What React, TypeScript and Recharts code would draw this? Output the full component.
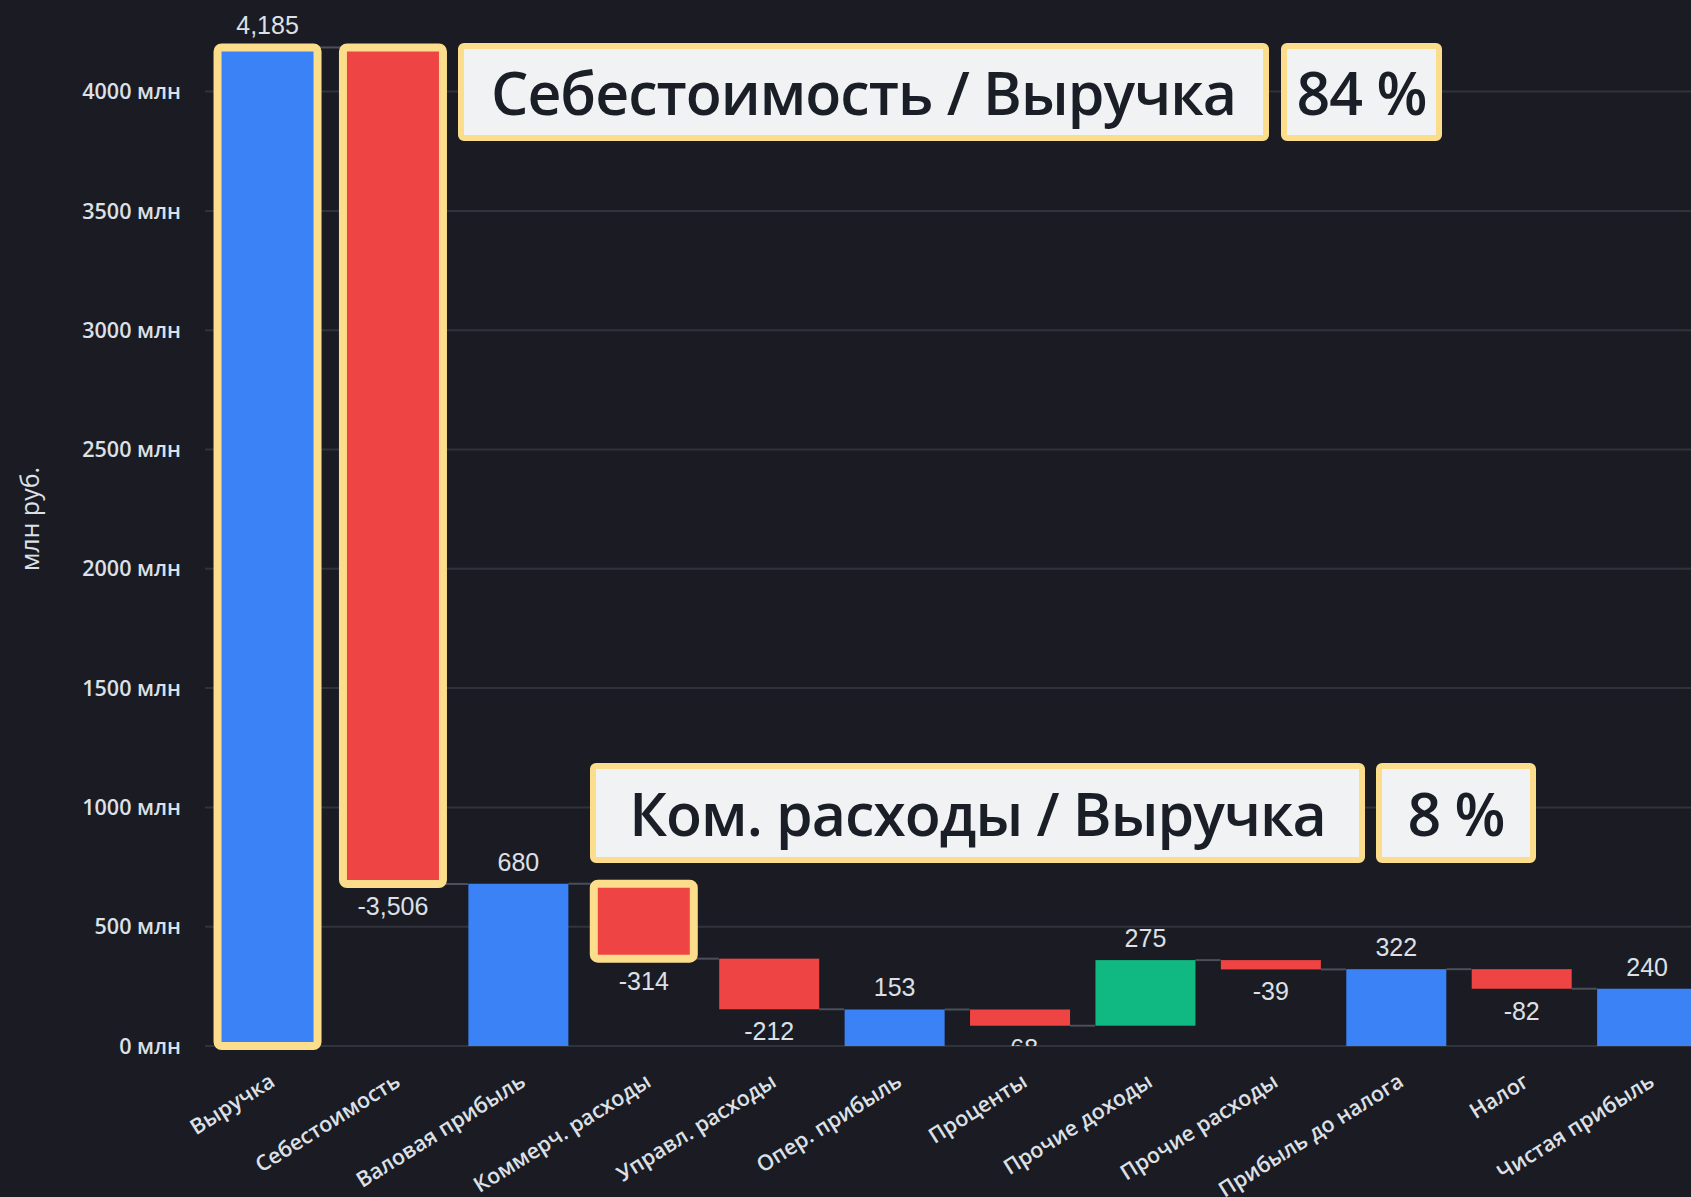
import React from "react";
import {
  BarChart,
  Bar,
  XAxis,
  YAxis,
  CartesianGrid,
  LabelList,
} from "recharts";

const categories = [
  "Выручка",
  "Себестоимость",
  "Валовая прибыль",
  "Коммерч. расходы",
  "Управл. расходы",
  "Опер. прибыль",
  "Проценты",
  "Прочие доходы",
  "Прочие расходы",
  "Прибыль до налога",
  "Налог",
  "Чистая прибыль",
];
const values = [4185, -3506, 680, -314, -212, 153, -68, 275, -39, 322, -82, 240];
const kinds = ["total", "delta", "total", "delta", "delta", "total", "delta", "delta", "delta", "total", "delta", "total"];
const highlighted = [true, true, false, true, false, false, false, false, false, false, false, false];
const yTicks = [0, 500, 1000, 1500, 2000, 2500, 3000, 3500, 4000];
const Y_MAX = 4300;

const BG = "#1b1c23";
const BLUE = "#3b82f6";
const RED = "#ef4444";
const GREEN = "#10b981";
const GOLD = "#fcdd8b";
const TEXT = "#dde0e7";
const GRID = "#30333c";
const CONNECT = "#4b4f59";

const CHART_W = 1720;
const CHART_H = 1197;
const PLOT_BOTTOM = 1046;

let level = 0;
const data = categories.map((name, i) => {
  const v = values[i];
  let range: [number, number];
  if (kinds[i] === "total") {
    range = [0, v];
    level = v;
  } else {
    range = v < 0 ? [level + v, level] : [level, level + v];
    level += v;
  }
  return { name, range, value: v, kind: kinds[i], hl: highlighted[i] };
});

const costRatio = Math.round((-values[1] / values[0]) * 100);
const commRatio = Math.round((-values[3] / values[0]) * 100);

const fmt = (v: number) => v.toLocaleString("en-US");

// grid only at the real ticks (no line at the top of the domain)
const gridRows = (p: any) => {
  const sc = p?.yAxis?.scale;
  if (typeof sc === "function") return yTicks.map((t) => sc(t));
  const off = p.offset || {};
  return yTicks.map((t) => off.top + off.height * (1 - t / Y_MAX));
};

const WaterfallBar = (props: any) => {
  const { x, y, width, height, payload, index } = props;
  const fill =
    payload.kind === "total" ? BLUE : payload.value < 0 ? RED : GREEN;
  const endY = payload.kind === "delta" && payload.value < 0 ? y + height : y;
  const gap = width / 4;
  return (
    <g>
      {index < categories.length - 1 && (
        <line
          x1={x + width}
          x2={x + width + gap}
          y1={endY}
          y2={endY}
          stroke={CONNECT}
          strokeWidth={2}
        />
      )}
      <rect
        x={x}
        y={y}
        width={width}
        height={height}
        fill={fill}
        stroke={payload.hl ? GOLD : "none"}
        strokeWidth={payload.hl ? 8 : 0}
        rx={payload.hl ? 4 : 0}
      />
    </g>
  );
};

const ValueLabel = (props: any) => {
  const { x, y, width, height, index } = props;
  const v = values[index];
  const neg = kinds[index] === "delta" && v < 0;
  const ty = neg ? y + height + 22 : y - 22;
  return (
    <g>
      <defs>
        <clipPath id={`lbl-clip-${index}`}>
          <rect x={0} y={0} width={CHART_W} height={PLOT_BOTTOM} />
        </clipPath>
      </defs>
      <text
        x={x + width / 2}
        y={ty}
        textAnchor="middle"
        dominantBaseline="central"
        fill={TEXT}
        fontSize={25}
        fontFamily="Liberation Sans, Arial, sans-serif"
        clipPath={`url(#lbl-clip-${index})`}
      >
        {fmt(v)}
      </text>
    </g>
  );
};

const XTick = (props: any) => {
  const { x, y, payload } = props;
  return (
    <g transform={`translate(${x + 4},${y + 24}) rotate(-32)`}>
      <text
        x={0}
        y={0}
        textAnchor="end"
        dominantBaseline="central"
        fill={TEXT}
        fontSize={21.5}
        fontWeight={600}
        fontFamily="Open Sans, sans-serif"
      >
        {payload.value}
      </text>
    </g>
  );
};

const boxStyle: React.CSSProperties = {
  position: "absolute",
  boxSizing: "border-box",
  background: "#f1f2f4",
  border: `6px solid ${GOLD}`,
  borderRadius: 6,
  color: "#1a1e26",
  fontFamily: "Open Sans, sans-serif",
  fontWeight: 600,
  fontSize: 59,
  display: "flex",
  alignItems: "center",
  justifyContent: "center",
  whiteSpace: "nowrap",
  letterSpacing: -1,
};

export default function App() {
  return (
    <div
      style={{
        position: "fixed",
        left: 0,
        top: 0,
        width: 1691,
        height: 1197,
        overflow: "hidden",
        background: BG,
      }}
    >
      <BarChart
        width={CHART_W}
        height={CHART_H}
        data={data}
        margin={{ top: 20, right: 10, bottom: 0, left: 0 }}
        barCategoryGap="10%"
      >
        <CartesianGrid
          vertical={false}
          stroke={GRID}
          strokeWidth={2}
          horizontalCoordinatesGenerator={gridRows}
        />
        <XAxis
          dataKey="name"
          interval={0}
          axisLine={false}
          tickLine={false}
          height={151}
          tick={<XTick />}
        />
        <YAxis
          width={205}
          domain={[0, Y_MAX]}
          ticks={yTicks}
          axisLine={false}
          tickLine={false}
          tickMargin={18}
          tickFormatter={(v: number) => `${v} млн`}
          tick={{
            fill: TEXT,
            fontSize: 21.5,
            fontWeight: 600,
            fontFamily: "Open Sans, sans-serif",
          }}
          label={{
            content: (p: any) => {
              const vb = p.viewBox || {};
              const cy = (vb.y || 0) + (vb.height || 0) / 2 - 14;
              return (
                <text
                  x={29}
                  y={cy}
                  transform={`rotate(-90 29 ${cy})`}
                  textAnchor="middle"
                  dominantBaseline="central"
                  fill={TEXT}
                  fontSize={25}
                  fontFamily="Open Sans, sans-serif"
                >
                  млн руб.
                </text>
              );
            },
          }}
        />
        <Bar dataKey="range" shape={WaterfallBar} isAnimationActive={false}>
          <LabelList dataKey="value" content={ValueLabel} />
        </Bar>
      </BarChart>

      <div style={{ ...boxStyle, left: 458, top: 43, width: 811, height: 98 }}>
        Себестоимость / Выручка
      </div>
      <div style={{ ...boxStyle, left: 1281, top: 43, width: 161, height: 98 }}>
        {costRatio} %
      </div>
      <div style={{ ...boxStyle, left: 590, top: 763, width: 775, height: 100 }}>
        Ком. расходы / Выручка
      </div>
      <div style={{ ...boxStyle, left: 1376, top: 763, width: 160, height: 100 }}>
        {commRatio} %
      </div>
    </div>
  );
}
